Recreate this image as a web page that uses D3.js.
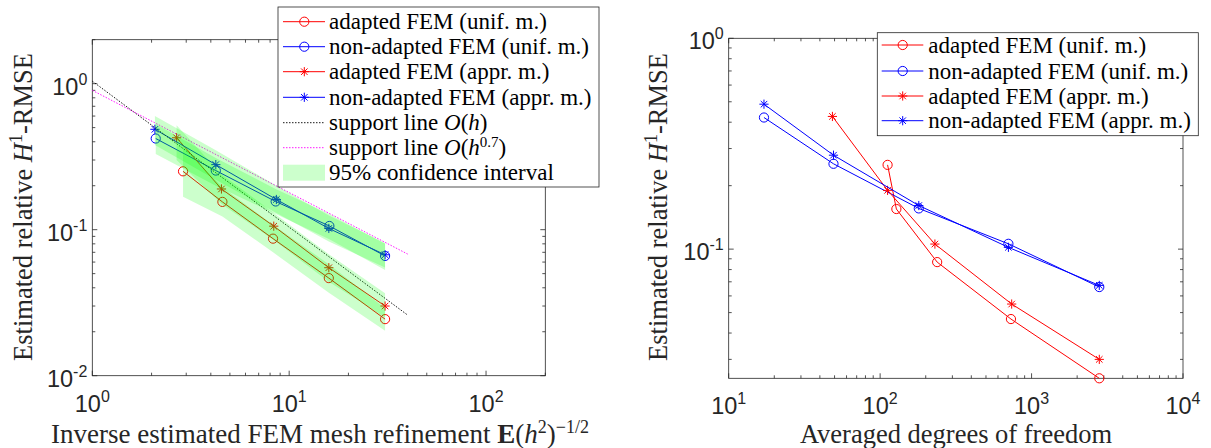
<!DOCTYPE html>
<html><head><meta charset="utf-8">
<script src="https://cdn.jsdelivr.net/npm/d3@7"></script>
<style>body{margin:0;background:#fff} svg{display:block}</style>
</head><body><svg id="c" width="1211" height="448"></svg>
<script>
// ---------------- DATA ----------------
const seriesNames = ["adapted FEM (unif. m.)", "non-adapted FEM (unif. m.)", "adapted FEM (appr. m.)", "non-adapted FEM (appr. m.)"];

// error values (shared by both panels)
const errAdaptUnif    = [0.251, 0.155, 0.0868, 0.0466, 0.0244];
const errNonAdaptUnif = [0.421, 0.254, 0.156, 0.106, 0.0661];
const errAdaptAppr    = [0.426, 0.190, 0.1057, 0.0549, 0.0300];
const errNonAdaptAppr = [0.487, 0.279, 0.161, 0.102, 0.0673];

// left panel: inverse mesh refinement
const hinvAdaptUnif    = [2.89, 4.58, 8.28, 15.9, 30.7];
const hinvNonAdaptUnif = [2.10, 4.24, 8.54, 16.0, 30.7];
const hinvAdaptAppr    = [2.68, 4.53, 8.35, 15.9, 30.7];
const hinvNonAdaptAppr = [2.08, 4.24, 8.61, 15.9, 30.7];

// 95% confidence bands (left panel)
const ciLowAdaptUnif     = [0.168, 0.123, 0.070, 0.037, 0.0203];
const ciHighAdaptUnif    = [0.37, 0.195, 0.108, 0.058, 0.029];
const ciLowNonAdaptUnif  = [0.33, 0.20, 0.128, 0.086, 0.053];
const ciHighNonAdaptUnif = [0.53, 0.31, 0.19, 0.128, 0.080];
const ciLowAdaptAppr     = [0.30, 0.15, 0.085, 0.044, 0.025];
const ciHighAdaptAppr    = [0.52, 0.24, 0.13, 0.068, 0.0367];
const ciLowNonAdaptAppr  = [0.38, 0.22, 0.13, 0.083, 0.055];
const ciHighNonAdaptAppr = [0.60, 0.35, 0.20, 0.125, 0.081];

// right panel: averaged degrees of freedom
const dofAdaptUnif    = [112, 128, 238, 731, 2800];
const dofNonAdaptUnif = [17.1, 49.2, 180, 703, 2800];
const dofAdaptAppr    = [48.4, 112, 230, 739, 2800];
const dofNonAdaptAppr = [17.1, 49.2, 180, 703, 2800];

// support lines
const supportX = [1, 40];
const supportHConst = 1.04;   // O(h)
const supportH07Const = 0.9;  // O(h^0.7)
const supportH07Exp = 0.7;

const leftXDomain = [1, 200], leftYDomain = [0.01, 2];
const rightXDomain = [10, 1e4], rightYDomain = [0.0244, 1];
const leftXTickExp = [0, 1, 2], leftYTickExp = [-2, -1, 0];
const rightXTickExp = [1, 2, 3, 4], rightYTickExp = [-1, 0];

// ---------------- DRAW ----------------
const svg = d3.select("#c");
const AX = "#262626";
const SANS = "'Liberation Sans', Arial, Helvetica, sans-serif";
const SERIF = "'Liberation Serif', 'Times New Roman', serif";

const xL = d3.scaleLog().domain(leftXDomain).range([92.3, 545.3]);
const yL = d3.scaleLog().domain(leftYDomain).range([375.7, 39.7]);
const xR = d3.scaleLog().domain(rightXDomain).range([728.7, 1183]);
const yR = d3.scaleLog().domain(rightYDomain).range([378.3, 38.3]);

function logTicks(lo, hi) {
  const major = [], minor = [];
  for (let e = Math.floor(Math.log10(lo)); e <= Math.ceil(Math.log10(hi)); e++) {
    for (let k = 1; k <= 9; k++) {
      const v = k * Math.pow(10, e);
      if (v < lo * 0.9999 || v > hi * 1.0001) continue;
      (k === 1 ? major : minor).push(v);
    }
  }
  return {major, minor};
}

function drawAxes(x, y, xExp, yExp) {
  const g = svg.append("g");
  const [x0, x1] = x.range(), [y0, y1] = y.range();
  const xt = logTicks(...x.domain()), yt = logTicks(...y.domain());
  const tick = (v, len, horiz) => {
    if (horiz) {
      g.append("line").attr("x1", x(v)).attr("x2", x(v)).attr("y1", y0).attr("y2", y0 - len).attr("stroke", AX);
      g.append("line").attr("x1", x(v)).attr("x2", x(v)).attr("y1", y1).attr("y2", y1 + len).attr("stroke", AX);
    } else {
      g.append("line").attr("y1", y(v)).attr("y2", y(v)).attr("x1", x0).attr("x2", x0 + len).attr("stroke", AX);
      g.append("line").attr("y1", y(v)).attr("y2", y(v)).attr("x1", x1).attr("x2", x1 - len).attr("stroke", AX);
    }
  };
  xt.major.forEach(v => tick(v, 5, true));
  xt.minor.forEach(v => tick(v, 3, true));
  yt.major.forEach(v => tick(v, 5, false));
  yt.minor.forEach(v => tick(v, 3, false));
  g.selectAll("line").attr("stroke-width", 0.8);
  g.append("rect").attr("x", x0).attr("y", y1).attr("width", x1 - x0).attr("height", y0 - y1)
    .attr("fill", "none").attr("stroke", AX).attr("stroke-width", 0.8);

  xExp.forEach(e => {
    const t = g.append("text").attr("x", x(Math.pow(10, e))).attr("y", y0 + 36)
      .attr("text-anchor", "middle").attr("font-family", SANS).attr("font-size", 23.5).attr("fill", AX);
    t.append("tspan").text("10");
    t.append("tspan").attr("font-size", 16).attr("dy", -10).text(String(e));
  });
  yExp.forEach(e => {
    const t = g.append("text").attr("x", x0 - 5).attr("y", y(Math.pow(10, e)) + 11)
      .attr("text-anchor", "end").attr("font-family", SANS).attr("font-size", 23.5).attr("fill", AX);
    t.append("tspan").text("10");
    t.append("tspan").attr("font-size", 16).attr("dy", -10).text(String(e));
  });
}

function drawSeries(g, x, y, xs, ys, color, marker) {
  const pts = xs.map((v, i) => [x(v), y(ys[i])]);
  g.append("path").attr("d", d3.line()(pts)).attr("fill", "none").attr("stroke", color).attr("stroke-width", 1);
  pts.forEach(p => drawMarker(g, p[0], p[1], color, marker));
}

function drawMarker(g, cx, cy, color, marker) {
  if (marker === "o") {
    g.append("circle").attr("cx", cx).attr("cy", cy).attr("r", 4.6)
      .attr("fill", "none").attr("stroke", color).attr("stroke-width", 1);
  } else {
    const r = 4.6, d = r * 0.7071;
    const segs = [[-r, 0, r, 0], [0, -r, 0, r], [-d, -d, d, d], [-d, d, d, -d]];
    segs.forEach(s => g.append("line").attr("x1", cx + s[0]).attr("y1", cy + s[1]).attr("x2", cx + s[2]).attr("y2", cy + s[3])
      .attr("stroke", color).attr("stroke-width", 1));
  }
}

const RED = "#ff0000", BLUE = "#0000ff";

// ---- left panel ----
drawAxes(xL, yL, leftXTickExp, leftYTickExp);
const gl = svg.append("g");
drawSeries(gl, xL, yL, hinvAdaptUnif, errAdaptUnif, RED, "o");
drawSeries(gl, xL, yL, hinvNonAdaptUnif, errNonAdaptUnif, BLUE, "o");
drawSeries(gl, xL, yL, hinvAdaptAppr, errAdaptAppr, RED, "*");
drawSeries(gl, xL, yL, hinvNonAdaptAppr, errNonAdaptAppr, BLUE, "*");

// support lines
const lineGen = d3.line();
gl.append("path").attr("d", lineGen(supportX.map(v => [xL(v), yL(supportHConst / v)])))
  .attr("stroke", "#000").attr("stroke-width", 0.9).attr("stroke-dasharray", "1.5,1.5").attr("fill", "none");
gl.append("path").attr("d", lineGen(supportX.map(v => [xL(v), yL(supportH07Const * Math.pow(v, -supportH07Exp))])))
  .attr("stroke", "#ff00ff").attr("stroke-width", 0.9).attr("stroke-dasharray", "1.5,1.5").attr("fill", "none");

// confidence bands (drawn on top, translucent)
[[hinvAdaptUnif, ciLowAdaptUnif, ciHighAdaptUnif],
 [hinvNonAdaptUnif, ciLowNonAdaptUnif, ciHighNonAdaptUnif],
 [hinvAdaptAppr, ciLowAdaptAppr, ciHighAdaptAppr],
 [hinvNonAdaptAppr, ciLowNonAdaptAppr, ciHighNonAdaptAppr]].forEach(([xs, lo, hi]) => {
  const pts = xs.map((v, i) => [xL(v), yL(hi[i])]).concat(xs.map((v, i) => [xL(v), yL(lo[i])]).reverse());
  gl.append("path").attr("d", d3.line()(pts) + "Z").attr("fill", "#00ff00").attr("fill-opacity", 0.2).attr("stroke", "none");
});

// ---- right panel ----
drawAxes(xR, yR, rightXTickExp, rightYTickExp);
const gr = svg.append("g");
drawSeries(gr, xR, yR, dofAdaptUnif, errAdaptUnif, RED, "o");
drawSeries(gr, xR, yR, dofNonAdaptUnif, errNonAdaptUnif, BLUE, "o");
drawSeries(gr, xR, yR, dofAdaptAppr, errAdaptAppr, RED, "*");
drawSeries(gr, xR, yR, dofNonAdaptAppr, errNonAdaptAppr, BLUE, "*");

// ---- axis titles ----
function yTitle(xpos, ycen) {
  const t = svg.append("text").attr("transform", `translate(${xpos},${ycen}) rotate(-90)`)
    .attr("text-anchor", "middle").attr("font-family", SERIF).attr("font-size", 26.5).attr("fill", AX);
  t.append("tspan").text("Estimated relative ");
  t.append("tspan").attr("font-style", "italic").text("H");
  t.append("tspan").attr("font-size", 18).attr("dy", -10).text("1");
  t.append("tspan").attr("dy", 10).text("-RMSE");
}
yTitle(32, 207);
yTitle(667, 207);

const tl = svg.append("text").attr("x", 320).attr("y", 443).attr("text-anchor", "middle")
  .attr("font-family", SERIF).attr("font-size", 27).attr("fill", AX);
tl.append("tspan").text("Inverse estimated FEM mesh refinement ");
tl.append("tspan").attr("font-weight", "bold").text("E");
tl.append("tspan").text("(");
tl.append("tspan").attr("font-style", "italic").text("h");
tl.append("tspan").attr("font-size", 18).attr("dy", -10).text("2");
tl.append("tspan").attr("dy", 10).text(")");
tl.append("tspan").attr("font-size", 18).attr("dy", -10).text("\u22121/2");

svg.append("text").attr("x", 956).attr("y", 443).attr("text-anchor", "middle")
  .attr("font-family", SERIF).attr("font-size", 26.5).attr("fill", AX).text("Averaged degrees of freedom");

// ---- legends ----
function legendBox(x, y, w, h) {
  svg.append("rect").attr("x", x).attr("y", y).attr("width", w).attr("height", h)
    .attr("fill", "#fff").attr("stroke", AX).attr("stroke-width", 0.8);
}
function legendText(x, y) {
  return svg.append("text").attr("x", x).attr("y", y).attr("font-family", SERIF).attr("font-size", 23).attr("fill", "#000");
}
const legSeries = [[RED, "o"], [BLUE, "o"], [RED, "*"], [BLUE, "*"]];

// left legend
legendBox(278, 7, 321, 180);
{
  const lx0 = 283, lx1 = 325, mx = 304.3, tx = 329, ys = [21.7, 46.7, 71.7, 97.3, 122.7, 147.7, 172.7];
  legSeries.forEach(([c, m], i) => {
    svg.append("line").attr("x1", lx0).attr("x2", lx1).attr("y1", ys[i]).attr("y2", ys[i]).attr("stroke", c).attr("stroke-width", 1);
    drawMarker(svg, mx, ys[i], c, m);
    legendText(tx, ys[i] + 7.5).text(seriesNames[i]);
  });
  svg.append("line").attr("x1", lx0).attr("x2", lx1).attr("y1", ys[4]).attr("y2", ys[4]).attr("stroke", "#000").attr("stroke-width", 0.9).attr("stroke-dasharray", "1.5,1.5");
  let t = legendText(tx, ys[4] + 7.5);
  t.append("tspan").text("support line ");
  t.append("tspan").attr("font-style", "italic").text("O");
  t.append("tspan").text("(");
  t.append("tspan").attr("font-style", "italic").text("h");
  t.append("tspan").text(")");
  svg.append("line").attr("x1", lx0).attr("x2", lx1).attr("y1", ys[5]).attr("y2", ys[5]).attr("stroke", "#ff00ff").attr("stroke-width", 0.9).attr("stroke-dasharray", "1.5,1.5");
  t = legendText(tx, ys[5] + 7.5);
  t.append("tspan").text("support line ");
  t.append("tspan").attr("font-style", "italic").text("O");
  t.append("tspan").text("(");
  t.append("tspan").attr("font-style", "italic").text("h");
  t.append("tspan").attr("font-size", 15).attr("dy", -8).text("0.7");
  t.append("tspan").attr("dy", 8).text(")");
  svg.append("rect").attr("x", lx0).attr("y", ys[6] - 8).attr("width", lx1 - lx0).attr("height", 16)
    .attr("fill", "#00ff00").attr("fill-opacity", 0.2);
  legendText(tx, ys[6] + 7.5).text("95% confidence interval");
}

// right legend
legendBox(877.3, 32.7, 321, 103);
{
  const lx0 = 881.7, lx1 = 923.3, mx = 902.7, tx = 928.3, ys = [45, 71, 96, 120.7];
  legSeries.forEach(([c, m], i) => {
    svg.append("line").attr("x1", lx0).attr("x2", lx1).attr("y1", ys[i]).attr("y2", ys[i]).attr("stroke", c).attr("stroke-width", 1);
    drawMarker(svg, mx, ys[i], c, m);
    legendText(tx, ys[i] + 7.5).text(seriesNames[i]);
  });
}
</script>
</body></html>
